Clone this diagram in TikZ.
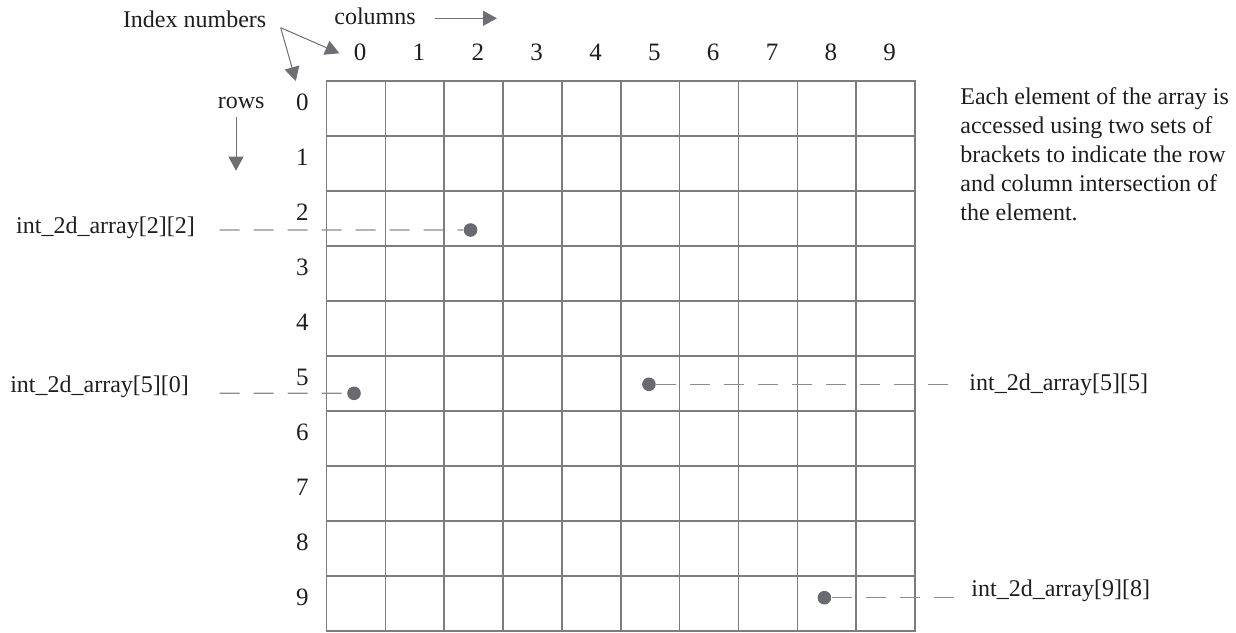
\documentclass[tikz,border=0pt]{standalone}
\usepackage{fontspec}
\setmainfont{Liberation Serif}
\usetikzlibrary{arrows.meta}
\definecolor{gridgray}{RGB}{125,125,125}
\definecolor{dotgray}{RGB}{105,105,112}
\definecolor{leadgray}{RGB}{140,140,140}
\definecolor{arrowgray}{RGB}{110,110,115}
\definecolor{textdark}{RGB}{30,30,30}
\tikzset{
  array text/.style={font=\fontsize{12}{14.5}\selectfont, text=textdark, inner sep=0pt},
  index label/.style={array text, font=\fontsize{12.5}{15}\selectfont, anchor=base},
  access label/.style={array text, anchor=base west},
  element dot/.style={circle, fill=dotgray, inner sep=0pt, minimum size=6.8pt},
  grid line/.style={draw=gridgray, line width=0.8pt},
  leader line/.style={leadgray, line width=0.65pt, dash pattern=on 10pt off 7pt},
  index arrow/.style={arrowgray, line width=0.5pt, -{Triangle[length=7pt,width=7.5pt]}}
}

\begin{document}
\begin{tikzpicture}[x=0.5pt, y=-0.5pt]
  \useasboundingbox (0,0) rectangle (1236,632);
  % the 10 x 10 array, one unit per cell
  \begin{scope}[shift={(326.6,80.7)}, x=29.42pt, y=-27.5pt]
    \draw[grid line] (0,0) rectangle (10,10);
    \foreach \i in {1,...,9} {
      \draw[grid line] (\i,0) -- (\i,10);
      \draw[grid line] (0,\i) -- (10,\i);
    }
    \foreach \i in {0,...,9} {
      \node[index label] (c\i) at (\i+0.57,-0.36) {\i};
      \node[index label] (r\i) at (-0.41,\i+0.545) {\i};
    }
    \node[element dot] (d22) at (2.446,2.715) {};
    \node[element dot] (d50) at (0.466,5.684) {};
    \node[element dot] (d55) at (5.478,5.52) {};
    \node[element dot] (d98) at (8.46,9.4) {};
  \end{scope}

  % headings
  \node[access label] (idx) at (122.6,27.3) {Index numbers};
  \node[access label] (cols) at (334,24) {columns};
  \node[access label] (rows) at (217.5,108.3) {rows};
  \coordinate (idx from) at (280.7,27.7);
  \coordinate (idx col tip) at (339.3,53.3);
  \coordinate (idx row tip) at (295.8,81);
  \coordinate (cols from) at (435,18.3);
  \coordinate (cols tip) at (497,18.3);
  \coordinate (rows from) at (236,116.7);
  \coordinate (rows tip) at (236,170.7);
  \draw[index arrow] (idx from) -- (idx col tip);
  \draw[index arrow] (idx from) -- (idx row tip);
  \draw[index arrow] (cols from) -- (cols tip);
  \draw[index arrow] (rows from) -- (rows tip);

  % element references
  \node[access label] (a22) at (15.8,233.3) {int\_2d\_array[2][2]};
  \node[access label] (a50) at (9.9,392.7) {int\_2d\_array[5][0]};
  \node[access label] (a55) at (969,390.3) {int\_2d\_array[5][5]};
  \node[access label] (a98) at (971,596) {int\_2d\_array[9][8]};
  \coordinate (a22 lead) at (219.5,230);
  \coordinate (a50 lead) at (219.5,393.3);
  \draw[leader line] (a22 lead) -- (d22.west);
  \draw[leader line] (a50 lead) -- (d50.west);
  \draw[leader line, shorten >=4.5pt] (d55.east) -- (d55 -| a55.west);
  \draw[leader line, shorten >=3.5pt] (d98.east) -- (d98 -| a98.west);

  \node[array text, anchor=north west, align=left] (note) at (960,87)
    {Each element of the array is\\ accessed using two sets of\\
     brackets to indicate the row\\ and column intersection of\\ the element.};
\end{tikzpicture}
\end{document}
